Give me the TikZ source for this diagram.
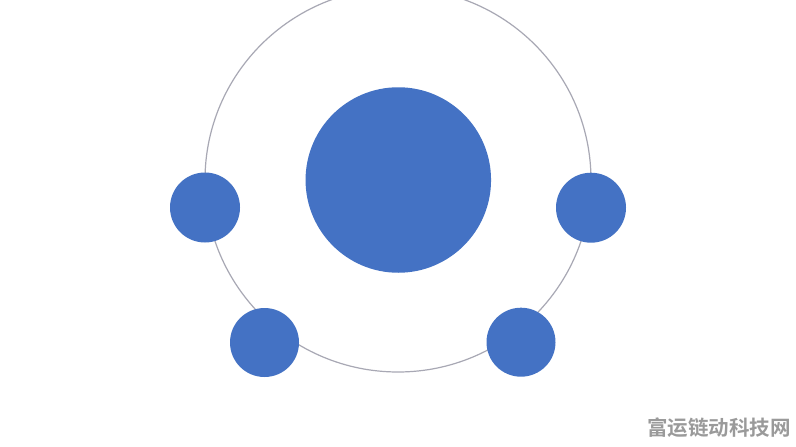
\documentclass[tikz,border=0pt]{standalone}
\usepackage{fontspec}
\newfontfamily\cjk{Noto Sans CJK SC}[BoldFont={Noto Sans CJK SC Bold}]
\definecolor{dotblue}{HTML}{4472C4}
\definecolor{ringgray}{HTML}{A8A8B4}
\definecolor{markgray}{HTML}{9A9A9A}
\tikzset{
  ring/.style={draw=ringgray, line width=1.2pt, fill=none},
  dot/.style={circle, fill=dotblue, inner sep=0pt, draw=none},
  wmtext/.style={font=\cjk\bfseries\fontsize{20.5}{20.5}\selectfont, text=markgray, inner sep=0pt}
}
\begin{document}
\begin{tikzpicture}[x=1pt,y=-1pt]
\useasboundingbox (0,0) rectangle (796,447);
\fill[white] (0,0) rectangle (796,447);
\begin{scope}
\clip (0,0) rectangle (796,447);
\draw[ring] (398,180) ellipse [x radius=193, y radius=192];
\end{scope}
\node[dot, minimum size=185.5pt] (core) at (398.3,180) {};
\node[dot, minimum size=70pt] (left) at (205,207.5) {};
\node[dot, minimum size=70pt] (right) at (591,207.7) {};
\node[dot, minimum size=69pt] (botleft) at (264.5,342.5) {};
\node[dot, minimum size=69pt] (botright) at (521,342.2) {};
\node[wmtext, anchor=east] (wm) at (791,428) {富运链动科技网};
\end{tikzpicture}
\end{document}
